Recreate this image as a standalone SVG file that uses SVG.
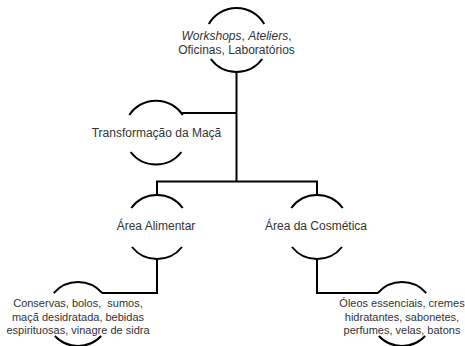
<svg xmlns="http://www.w3.org/2000/svg" width="465" height="346" viewBox="0 0 465 346">
<style>
.arc{fill:none;stroke:#000;stroke-width:2}
.edge{fill:none;stroke:#000;stroke-width:2;stroke-linejoin:miter}
.t12{font-family:"Liberation Sans",Arial,sans-serif;font-size:12px;fill:#333;text-anchor:middle}
.t11{font-family:"Liberation Sans",Arial,sans-serif;font-size:11px;fill:#333;text-anchor:middle;white-space:pre}
</style>
<rect width="465" height="346" fill="#fff"/>
<g id="connectors">
<path class="edge" d="M236.5,72 V181.5"/>
<path class="edge" d="M236.5,113 H181.4"/>
<path class="edge" d="M157,195 V181.5 H317 V195"/>
<path class="edge" d="M157,259 V293 H102"/>
<path class="edge" d="M317,259 V293 H378"/>
</g>
<g id="node-workshops">
<path class="arc" d="M208.8,24 A32,32 0 0 1 264.2,24"/>
<path class="arc" d="M262.2,59 A32,32 0 0 1 210.8,59"/>
<text class="t12" x="236.5" y="39.5"><tspan font-style="italic">Workshops</tspan>, <tspan font-style="italic">Ateliers</tspan>,</text>
<text class="t12" x="236.5" y="53.5">Oficinas, Laboratórios</text>
</g>
<g id="node-transformacao">
<path class="arc" d="M129.3,115 A32,32 0 0 1 182.7,115"/>
<path class="arc" d="M181.4,152 A32,32 0 0 1 130.6,152"/>
<text class="t12" x="156.5" y="136.5">Transformação da Maçã</text>
</g>
<g id="node-alimentar">
<path class="arc" d="M131.3,208 A32,32 0 0 1 182.7,208"/>
<path class="arc" d="M182,247 A32,32 0 0 1 132,247"/>
<text class="t12" x="156" y="230">Área Alimentar</text>
</g>
<g id="node-cosmetica">
<path class="arc" d="M291.3,208 A32,32 0 0 1 342.7,208"/>
<path class="arc" d="M342,247 A32,32 0 0 1 292,247"/>
<text class="t12" x="316" y="230">Área da Cosmética</text>
</g>
<g id="node-alimentar-produtos">
<path class="arc" d="M53.8,293 A32,32 0 0 1 102.2,293"/>
<path class="arc" d="M101.2,336 A32,32 0 0 1 54.8,336"/>
<text class="t11" x="78" y="307">Conservas, bolos,  sumos,</text>
<text class="t11" x="78" y="320.5">maçã desidratada, bebidas</text>
<text class="t11" x="78" y="334">espirituosas, vinagre de sidra</text>
</g>
<g id="node-cosmetica-produtos">
<path class="arc" d="M377.8,293 A32,32 0 0 1 426.2,293"/>
<path class="arc" d="M425.2,336 A32,32 0 0 1 378.8,336"/>
<text class="t11" x="402" y="307">Óleos essenciais, cremes</text>
<text class="t11" x="402" y="320.5">hidratantes, sabonetes,</text>
<text class="t11" x="402" y="334">perfumes, velas, batons</text>
</g>
</svg>
